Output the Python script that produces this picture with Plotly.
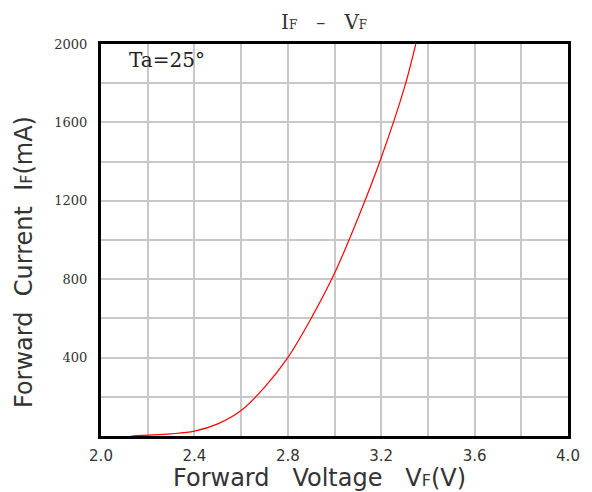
import plotly.graph_objects as go

# Forward voltage (V) and forward current (mA)
vf = [2.13, 2.2, 2.3, 2.4, 2.5, 2.6, 2.7, 2.8, 2.9, 3.0, 3.1, 3.2, 3.3, 3.348]
i_f = [0, 4, 11, 25, 62, 130, 248, 400, 600, 830, 1110, 1420, 1780, 2000]

x_ticks = [2.0, 2.4, 2.8, 3.2, 3.6, 4.0]
x_tick_labels = ["2.0", "2.4", "2.8", "3.2", "3.6", "4.0"]
y_ticks = [400, 800, 1200, 1600, 2000]
y_tick_labels = ["400", "800", "1200", "1600", "2000"]

fig = go.Figure()
fig.add_trace(go.Scatter(
    x=vf, y=i_f, mode="lines",
    line=dict(color="#ff0000", width=1.2, shape="spline", smoothing=1.0),
    showlegend=False, hoverinfo="skip",
))

grid_col = "#c8c8c8"
txt_col = "#333333"
fig.update_layout(
    width=592, height=492,
    margin=dict(l=93, r=32, t=36, b=64),
    paper_bgcolor="white", plot_bgcolor="white",
    xaxis=dict(
        range=[2.0, 4.0], tickmode="array", tickvals=x_ticks, ticktext=x_tick_labels,
        showgrid=True, gridcolor=grid_col, gridwidth=1.5,
        minor=dict(tickmode="linear", tick0=2.0, dtick=0.2, showgrid=True, gridcolor=grid_col, gridwidth=1.5),
        showline=True, linecolor="black", linewidth=3, mirror=True,
        ticks="", zeroline=False, ticklabelstandoff=4,
        tickfont=dict(family="DejaVu Sans", size=15, color=txt_col),
    ),
    yaxis=dict(
        range=[0, 2000], tickmode="array", tickvals=y_ticks, ticktext=y_tick_labels,
        showgrid=True, gridcolor=grid_col, gridwidth=1.5,
        minor=dict(tickmode="linear", tick0=0, dtick=200, showgrid=True, gridcolor=grid_col, gridwidth=1.5),
        showline=True, linecolor="black", linewidth=3, mirror=True,
        ticks="", zeroline=False, ticklabelstandoff=8,
        tickfont=dict(family="DejaVu Serif", size=13, color=txt_col),
    ),
    annotations=[
        dict(text="I<span style='font-size:12px'>F</span>   <span style='font-size:18px'>–</span>   V<span style='font-size:12px'>F</span>",
             xref="paper", yref="paper", x=0.478, y=1.056, xanchor="center", yanchor="middle",
             showarrow=False, font=dict(family="DejaVu Serif", size=20, color=txt_col)),
        dict(text="Ta=25°", xref="paper", yref="paper", x=0.055, y=0.96,
             xanchor="left", yanchor="middle", showarrow=False,
             font=dict(family="DejaVu Serif", size=20, color="#222222")),
        dict(text="Forward   Voltage   V<span style='font-size:16px'>F</span>(V)",
             xref="paper", yref="paper", x=0.467, y=-0.108, xanchor="center", yanchor="middle",
             showarrow=False, font=dict(family="DejaVu Sans", size=24, color=txt_col)),
        dict(text="Forward  Current  I<span style='font-size:16px'>F</span>(mA)",
             xref="paper", yref="paper", x=-0.166, y=0.445, xanchor="center", yanchor="middle",
             textangle=-90, showarrow=False, font=dict(family="DejaVu Sans", size=24, color=txt_col)),
    ],
)

fig.write_html("out.html")
